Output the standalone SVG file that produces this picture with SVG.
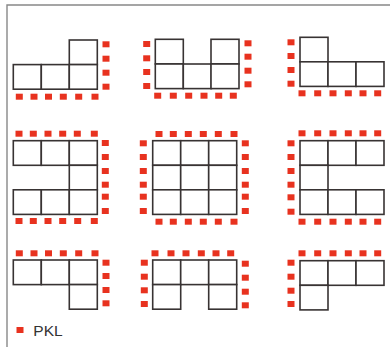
<svg xmlns="http://www.w3.org/2000/svg" width="390" height="347" viewBox="0 0 390 347">
<style>
.c{fill:#fff;stroke:#383333;stroke-width:1.6}
.d{fill:#e8321f}
.f{stroke:#888;stroke-width:1.4;fill:none}
</style>
<defs>
<rect id="dot" x="-3.5" y="-3" width="7" height="6" class="d"/>
<rect id="cell" x="0" y="0" width="28" height="24.6" class="c"/>
</defs>
<rect width="390" height="347" fill="#fff"/>
<g id="frame"><path class="f" d="M7,347V5H390"/></g>

<g id="p1">
<use href="#cell" x="69.3" y="40"/>
<use href="#cell" x="13.3" y="64.6"/><use href="#cell" x="41.3" y="64.6"/><use href="#cell" x="69.3" y="64.6"/>
<use href="#dot" x="19.3" y="96.7"/><use href="#dot" x="34" y="96.7"/><use href="#dot" x="48.5" y="96.7"/><use href="#dot" x="63.3" y="96.7"/><use href="#dot" x="78.7" y="96.7"/><use href="#dot" x="95" y="96.7"/>
<use href="#dot" x="106" y="44.3"/><use href="#dot" x="106" y="58.7"/><use href="#dot" x="106" y="72.7"/><use href="#dot" x="106" y="86.7"/>
</g>

<g id="p2">
<use href="#cell" x="155.3" y="39.3"/><use href="#cell" x="211" y="39.3"/>
<use href="#cell" x="155.3" y="64"/><use href="#cell" x="183.3" y="64"/><use href="#cell" x="211" y="64"/>
<use href="#dot" x="146.7" y="44"/><use href="#dot" x="146.7" y="58.3"/><use href="#dot" x="146.7" y="72"/><use href="#dot" x="146.7" y="86"/>
<use href="#dot" x="248" y="43.3"/><use href="#dot" x="248" y="56.7"/><use href="#dot" x="248" y="70.7"/><use href="#dot" x="248" y="84.3"/>
<use href="#dot" x="157.7" y="95.7"/><use href="#dot" x="173.3" y="95.7"/><use href="#dot" x="188.7" y="95.7"/><use href="#dot" x="204" y="95.7"/><use href="#dot" x="218.7" y="95.7"/><use href="#dot" x="233.3" y="95.7"/>
</g>

<g id="p3">
<use href="#cell" x="300" y="37.3"/>
<use href="#cell" x="300" y="61.8"/><use href="#cell" x="328" y="61.8"/><use href="#cell" x="356" y="61.8"/>
<use href="#dot" x="291" y="42.3"/><use href="#dot" x="291" y="56"/><use href="#dot" x="291" y="70"/><use href="#dot" x="291" y="83.7"/>
<use href="#dot" x="302" y="93.3"/><use href="#dot" x="317.7" y="93.3"/><use href="#dot" x="333" y="93.3"/><use href="#dot" x="348.3" y="93.3"/><use href="#dot" x="363" y="93.3"/><use href="#dot" x="377.7" y="93.3"/>
</g>

<g id="p4">
<use href="#cell" x="13.3" y="140.7"/><use href="#cell" x="41.3" y="140.7"/><use href="#cell" x="69.3" y="140.7"/>
<use href="#cell" x="69.3" y="165.3"/>
<use href="#cell" x="13.3" y="189.8"/><use href="#cell" x="41.3" y="189.8"/><use href="#cell" x="69.3" y="189.8"/>
<use href="#dot" x="19" y="133.7"/><use href="#dot" x="33.3" y="133.7"/><use href="#dot" x="48" y="133.7"/><use href="#dot" x="62.7" y="133.7"/><use href="#dot" x="77.3" y="133.7"/><use href="#dot" x="94.3" y="133.7"/>
<use href="#dot" x="105.3" y="143"/><use href="#dot" x="105.3" y="157"/><use href="#dot" x="105.3" y="171"/><use href="#dot" x="105.3" y="184.7"/><use href="#dot" x="105.3" y="196.7"/><use href="#dot" x="105.3" y="211"/>
<use href="#dot" x="19" y="221"/><use href="#dot" x="33.3" y="221"/><use href="#dot" x="48" y="221"/><use href="#dot" x="62.7" y="221"/><use href="#dot" x="77.7" y="221"/><use href="#dot" x="94.3" y="221"/>
</g>

<g id="p5">
<use href="#cell" x="152.7" y="140.7"/><use href="#cell" x="180.7" y="140.7"/><use href="#cell" x="208.7" y="140.7"/>
<use href="#cell" x="152.7" y="165.3"/><use href="#cell" x="180.7" y="165.3"/><use href="#cell" x="208.7" y="165.3"/>
<use href="#cell" x="152.7" y="189.8"/><use href="#cell" x="180.7" y="189.8"/><use href="#cell" x="208.7" y="189.8"/>
<use href="#dot" x="159" y="134"/><use href="#dot" x="173.3" y="134"/><use href="#dot" x="188.3" y="134"/><use href="#dot" x="203.3" y="134"/><use href="#dot" x="218.3" y="134"/><use href="#dot" x="234" y="134"/>
<use href="#dot" x="143.3" y="143.3"/><use href="#dot" x="143.3" y="157"/><use href="#dot" x="143.3" y="171"/><use href="#dot" x="143.3" y="184.7"/><use href="#dot" x="143.3" y="196.7"/><use href="#dot" x="143.3" y="211"/>
<use href="#dot" x="245.3" y="143.3"/><use href="#dot" x="245.3" y="157"/><use href="#dot" x="245.3" y="171"/><use href="#dot" x="245.3" y="184.7"/><use href="#dot" x="245.3" y="196.7"/><use href="#dot" x="245.3" y="211"/>
<use href="#dot" x="159" y="221.7"/><use href="#dot" x="173.3" y="221.7"/><use href="#dot" x="188.3" y="221.7"/><use href="#dot" x="203.3" y="221.7"/><use href="#dot" x="218.3" y="221.7"/><use href="#dot" x="234" y="221.7"/>
</g>

<g id="p6">
<use href="#cell" x="300" y="140.7"/><use href="#cell" x="328" y="140.7"/><use href="#cell" x="356" y="140.7"/>
<use href="#cell" x="300" y="165.3"/>
<use href="#cell" x="300" y="189.8"/><use href="#cell" x="328" y="189.8"/><use href="#cell" x="356" y="189.8"/>
<use href="#dot" x="302" y="133.3"/><use href="#dot" x="317.7" y="133.3"/><use href="#dot" x="333" y="133.3"/><use href="#dot" x="348.3" y="133.3"/><use href="#dot" x="363" y="133.3"/><use href="#dot" x="377.7" y="133.3"/>
<use href="#dot" x="291" y="143.3"/><use href="#dot" x="291" y="157"/><use href="#dot" x="291" y="171"/><use href="#dot" x="291" y="184.7"/><use href="#dot" x="291" y="197.3"/><use href="#dot" x="291" y="211.7"/>
<use href="#dot" x="302" y="221.7"/><use href="#dot" x="317.7" y="221.7"/><use href="#dot" x="333" y="221.7"/><use href="#dot" x="348.3" y="221.7"/><use href="#dot" x="363" y="221.7"/><use href="#dot" x="377.7" y="221.7"/>
</g>

<g id="p7">
<use href="#cell" x="13.3" y="260"/><use href="#cell" x="41.3" y="260"/><use href="#cell" x="69.3" y="260"/>
<use href="#cell" x="69.3" y="284.6"/>
<use href="#dot" x="19.3" y="253.3"/><use href="#dot" x="34" y="253.3"/><use href="#dot" x="48.5" y="253.3"/><use href="#dot" x="63.3" y="253.3"/><use href="#dot" x="78.7" y="253.3"/><use href="#dot" x="95" y="253.3"/>
<use href="#dot" x="106" y="262.7"/><use href="#dot" x="106" y="276"/><use href="#dot" x="106" y="290"/><use href="#dot" x="106" y="303.3"/>
</g>

<g id="p8">
<use href="#cell" x="152.7" y="260"/><use href="#cell" x="180.7" y="260"/><use href="#cell" x="208.7" y="260"/>
<use href="#cell" x="152.7" y="284.6"/><use href="#cell" x="208.7" y="284.6"/>
<use href="#dot" x="155" y="253.3"/><use href="#dot" x="171" y="253.3"/><use href="#dot" x="186" y="253.3"/><use href="#dot" x="201.3" y="253.3"/><use href="#dot" x="216" y="253.3"/><use href="#dot" x="230.7" y="253.3"/>
<use href="#dot" x="144.3" y="262.7"/><use href="#dot" x="144.3" y="276.7"/><use href="#dot" x="144.3" y="290.3"/><use href="#dot" x="144.3" y="304"/>
<use href="#dot" x="245.3" y="263.7"/><use href="#dot" x="245.3" y="277.7"/><use href="#dot" x="245.3" y="291.7"/><use href="#dot" x="245.3" y="305.3"/>
</g>

<g id="p9">
<use href="#cell" x="300" y="260.7"/><use href="#cell" x="328" y="260.7"/><use href="#cell" x="356" y="260.7"/>
<use href="#cell" x="300" y="285.3"/>
<use href="#dot" x="302" y="253.3"/><use href="#dot" x="317.7" y="253.3"/><use href="#dot" x="333" y="253.3"/><use href="#dot" x="348.3" y="253.3"/><use href="#dot" x="363" y="253.3"/><use href="#dot" x="377.7" y="253.3"/>
<use href="#dot" x="291" y="262.7"/><use href="#dot" x="291" y="276.7"/><use href="#dot" x="291" y="290.7"/><use href="#dot" x="291" y="304"/>
</g>

<g id="legend">
<use href="#dot" x="20" y="330"/>
<text x="33.3" y="336" font-family="Liberation Sans, Arial, sans-serif" font-size="15.5" fill="#333">PKL</text>
</g>
</svg>
